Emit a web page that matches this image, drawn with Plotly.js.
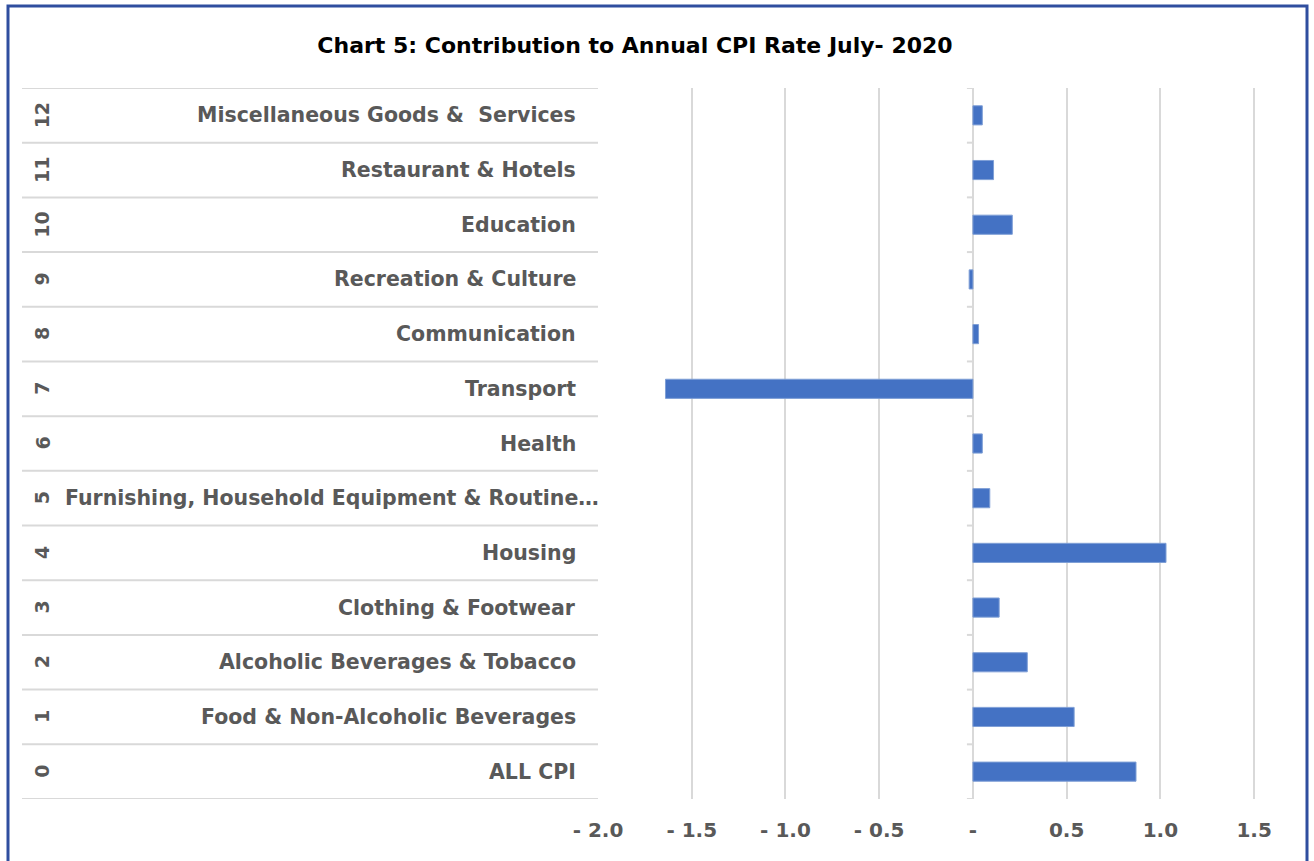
<!DOCTYPE html>
<html>
<head>
<meta charset="utf-8">
<script src="https://cdn.plot.ly/plotly-3.0.1.min.js"></script>
<style>
  html, body { margin: 0; padding: 0; background: #ffffff; }
  #chart { width: 1314px; height: 861px; }
</style>
</head>
<body>
<div id="chart"></div>
<script>
// ---- data ----
const codes = [0, 1, 2, 3, 4, 5, 6, 7, 8, 9, 10, 11, 12];
const categories = [
  "ALL CPI",
  "Food & Non-Alcoholic Beverages",
  "Alcoholic Beverages & Tobacco",
  "Clothing & Footwear",
  "Housing",
  "Furnishing, Household Equipment & Routine\u2026",
  "Health",
  "Transport",
  "Communication",
  "Recreation & Culture",
  "Education",
  "Restaurant & Hotels",
  "Miscellaneous Goods &  Services"
];
const contributions = [0.87, 0.54, 0.29, 0.14, 1.03, 0.09, 0.05, -1.64, 0.03, -0.02, 0.21, 0.11, 0.05];
const xTickVals = [-2.0, -1.5, -1.0, -0.5, 0, 0.5, 1.0, 1.5];
const xTickText = ["- 2.0", "- 1.5", "- 1.0", "- 0.5", "-", "0.5", "1.0", "1.5"];
const chartTitle = "Chart 5: Contribution to Annual CPI Rate July- 2020";

// ---- layout helpers (pixel geometry) ----
const W = 1314, H = 861;
const M = { l: 598, r: 10, t: 88, b: 62 };
const plotW = W - M.l - M.r;
const plotH = H - M.t - M.b;
const px2paperX = (px) => (px - M.l) / plotW;
const px2paperY = (py) => (H - M.b - py) / plotH;

const FONT = "DejaVu Sans, Open Sans, sans-serif";
const GREY = "#595959";
const LINE = "#D9D9D9";

const shapes = [];
// table row separators (left label area)
for (let k = 0; k <= codes.length; k++) {
  shapes.push({
    type: "line", xref: "paper", yref: "y",
    x0: px2paperX(22), x1: 0, y0: k - 0.5, y1: k - 0.5,
    line: { color: LINE, width: 2 }
  });
}
// small tick marks at the zero axis at category boundaries
for (let k = 0; k <= codes.length; k++) {
  shapes.push({
    type: "line", xref: "x", yref: "y", xsizemode: "pixel", xanchor: 0,
    x0: -6, x1: 0, y0: k - 0.5, y1: k - 0.5,
    line: { color: LINE, width: 2 }
  });
}
// outer chart frame
shapes.push({
  type: "rect", xref: "paper", yref: "paper",
  x0: px2paperX(8), x1: px2paperX(1307), y0: px2paperY(880), y1: px2paperY(6),
  line: { color: "#2F4E9F", width: 3 }, fillcolor: "rgba(0,0,0,0)", layer: "above"
});

const annotations = [];
codes.forEach((c, i) => {
  annotations.push({
    xref: "paper", yref: "y", x: px2paperX(42), y: c,
    text: String(c), showarrow: false, textangle: -90,
    xanchor: "center", yanchor: "middle",
    font: { family: FONT, size: 19, color: GREY, weight: "bold" }
  });
  const truncated = categories[i].endsWith("\u2026");
  annotations.push({
    xref: "paper", yref: "y", x: px2paperX(truncated ? 601 : 578), y: c,
    text: categories[i], showarrow: false,
    xanchor: "right", yanchor: "middle",
    font: { family: FONT, size: 20.5, color: GREY, weight: "bold" }
  });
});

const trace = {
  type: "bar", orientation: "h",
  x: contributions, y: codes,
  marker: { color: "#4472C4", line: { color: "#7F9FD6", width: 1 } },
  hoverinfo: "x+text", text: categories, textposition: "none"
};

const layout = {
  width: W, height: H,
  margin: M,
  paper_bgcolor: "#ffffff", plot_bgcolor: "#ffffff",
  showlegend: false,
  bargap: 0.65,
  title: {
    text: "<b>" + chartTitle + "</b>",
    x: 635 / W, xanchor: "center", xref: "container",
    y: 1 - 45 / H, yanchor: "middle", yref: "container",
    font: { family: FONT, size: 22, color: "#000000" }
  },
  xaxis: {
    range: [-2.0, (1304 - 972.5) / 187.7],
    tickmode: "array", tickvals: xTickVals, ticktext: xTickText,
    showgrid: true, gridcolor: LINE, gridwidth: 2,
    zeroline: true, zerolinecolor: LINE, zerolinewidth: 2,
    showline: false, ticks: "",
    ticklabelstandoff: 17,
    tickfont: { family: FONT, size: 20, color: GREY, weight: "bold" },
    fixedrange: true
  },
  yaxis: {
    range: [-0.5, 12.5],
    showticklabels: false, showgrid: false, zeroline: false,
    showline: false, ticks: "", fixedrange: true
  },
  shapes: shapes,
  annotations: annotations
};

Plotly.newPlot("chart", [trace], layout, { displayModeBar: false, staticPlot: true });
</script>
</body>
</html>
